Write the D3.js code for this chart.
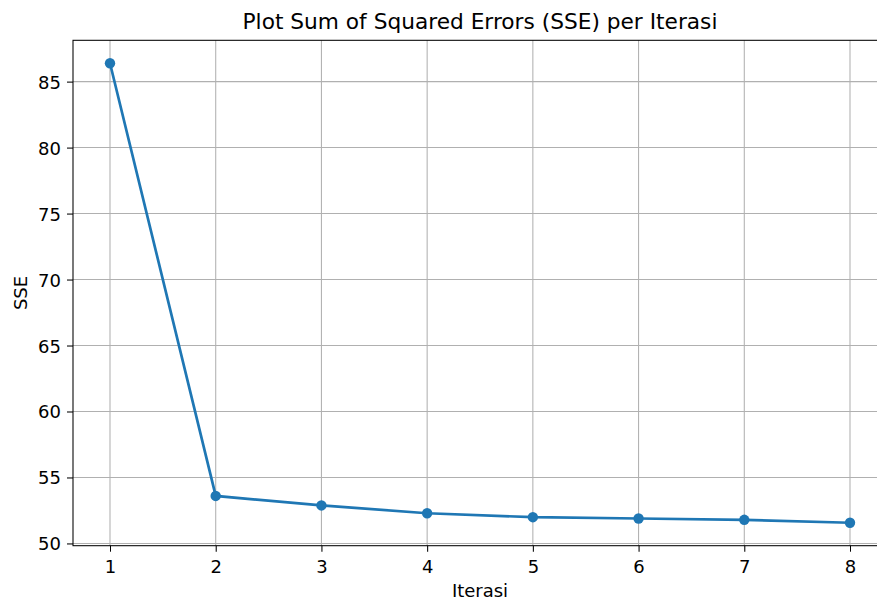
<!DOCTYPE html>
<html>
<head>
<meta charset="utf-8">
<script src="https://cdn.jsdelivr.net/npm/d3@7"></script>
<style>
	body { margin: 0; background: #fff; }
	svg text { font-family: "DejaVu Sans", sans-serif; fill: #000; }
</style>
</head>
<body>
<script>
var iterations = [1, 2, 3, 4, 5, 6, 7, 8],
	sse = [86.39, 53.6, 52.88, 52.29, 51.99, 51.89, 51.79, 51.57],
	xTicks = [1, 2, 3, 4, 5, 6, 7, 8],
	yTicks = [50, 55, 60, 65, 70, 75, 80, 85];

var W = 877, H = 604,
	pLeft = 73, pRight = 887, pTop = 40.3, pBottom = 545.7;

var svg = d3.select('body').append('svg').attr('width', W).attr('height', H);

// matplotlib style 5% margins
var xPad = (d3.max(iterations) - d3.min(iterations)) * 0.05,
	yPad = (d3.max(sse) - d3.min(sse)) * 0.05;

var x = d3.scaleLinear().domain([d3.min(iterations) - xPad, d3.max(iterations) + xPad]).range([pLeft, pRight]);
var y = d3.scaleLinear().domain([d3.min(sse) - yPad, d3.max(sse) + yPad]).range([pBottom, pTop]);

// grid
var grid = svg.append('g').attr('stroke', '#b0b0b0').attr('stroke-width', 1.05);
grid.selectAll('line.gx').data(xTicks).enter().append('line')
	.attr('x1', function(d) { return x(d); }).attr('x2', function(d) { return x(d); })
	.attr('y1', pTop).attr('y2', pBottom);
grid.selectAll('line.gy').data(yTicks).enter().append('line')
	.attr('y1', function(d) { return y(d); }).attr('y2', function(d) { return y(d); })
	.attr('x1', pLeft).attr('x2', pRight);

// axes
var xAxis = d3.axisBottom(x).tickValues(xTicks).tickSize(6).tickFormat(d3.format('d'));
var yAxis = d3.axisLeft(y).tickValues(yTicks).tickSize(6).tickFormat(d3.format('d'));

var gx = svg.append('g').attr('transform', 'translate(0,' + pBottom + ')').call(xAxis);
var gy = svg.append('g').attr('transform', 'translate(' + pLeft + ',0)').call(yAxis);
[gx, gy].forEach(function(g) {
	g.select('.domain').remove();
	g.attr('font-size', null).attr('font-family', null);
	g.selectAll('line').attr('stroke', '#000').attr('stroke-width', 1.05);
	g.selectAll('text').attr('font-size', '18px').attr('fill', '#000');
});
gx.selectAll('text').attr('y', 573 - pBottom).attr('dy', 0);
gy.selectAll('text').attr('x', -12).attr('dy', '0.36em');

// spines
svg.append('rect').attr('x', pLeft).attr('y', pTop).attr('width', pRight - pLeft).attr('height', pBottom - pTop)
	.attr('fill', 'none').attr('stroke', '#000').attr('stroke-width', 1.05);

// line + markers
var line = d3.line().x(function(d, i) { return x(iterations[i]); }).y(function(d) { return y(d); });
svg.append('path').datum(sse).attr('d', line)
	.attr('fill', 'none').attr('stroke', '#1f77b4').attr('stroke-width', 2.7);
svg.selectAll('circle.pt').data(sse).enter().append('circle')
	.attr('cx', function(d, i) { return x(iterations[i]); })
	.attr('cy', function(d) { return y(d); })
	.attr('r', 5.2).attr('fill', '#1f77b4');

// labels
svg.append('text').attr('x', (pLeft + pRight) / 2).attr('y', 29).attr('text-anchor', 'middle')
	.attr('font-size', '21.7px').text('Plot Sum of Squared Errors (SSE) per Iterasi');
svg.append('text').attr('x', (pLeft + pRight) / 2).attr('y', 597).attr('text-anchor', 'middle')
	.attr('font-size', '18px').text('Iterasi');
svg.append('text').attr('transform', 'translate(27,' + (pTop + pBottom) / 2 + ') rotate(-90)')
	.attr('text-anchor', 'middle').attr('font-size', '18px').text('SSE');
</script>
</body>
</html>
